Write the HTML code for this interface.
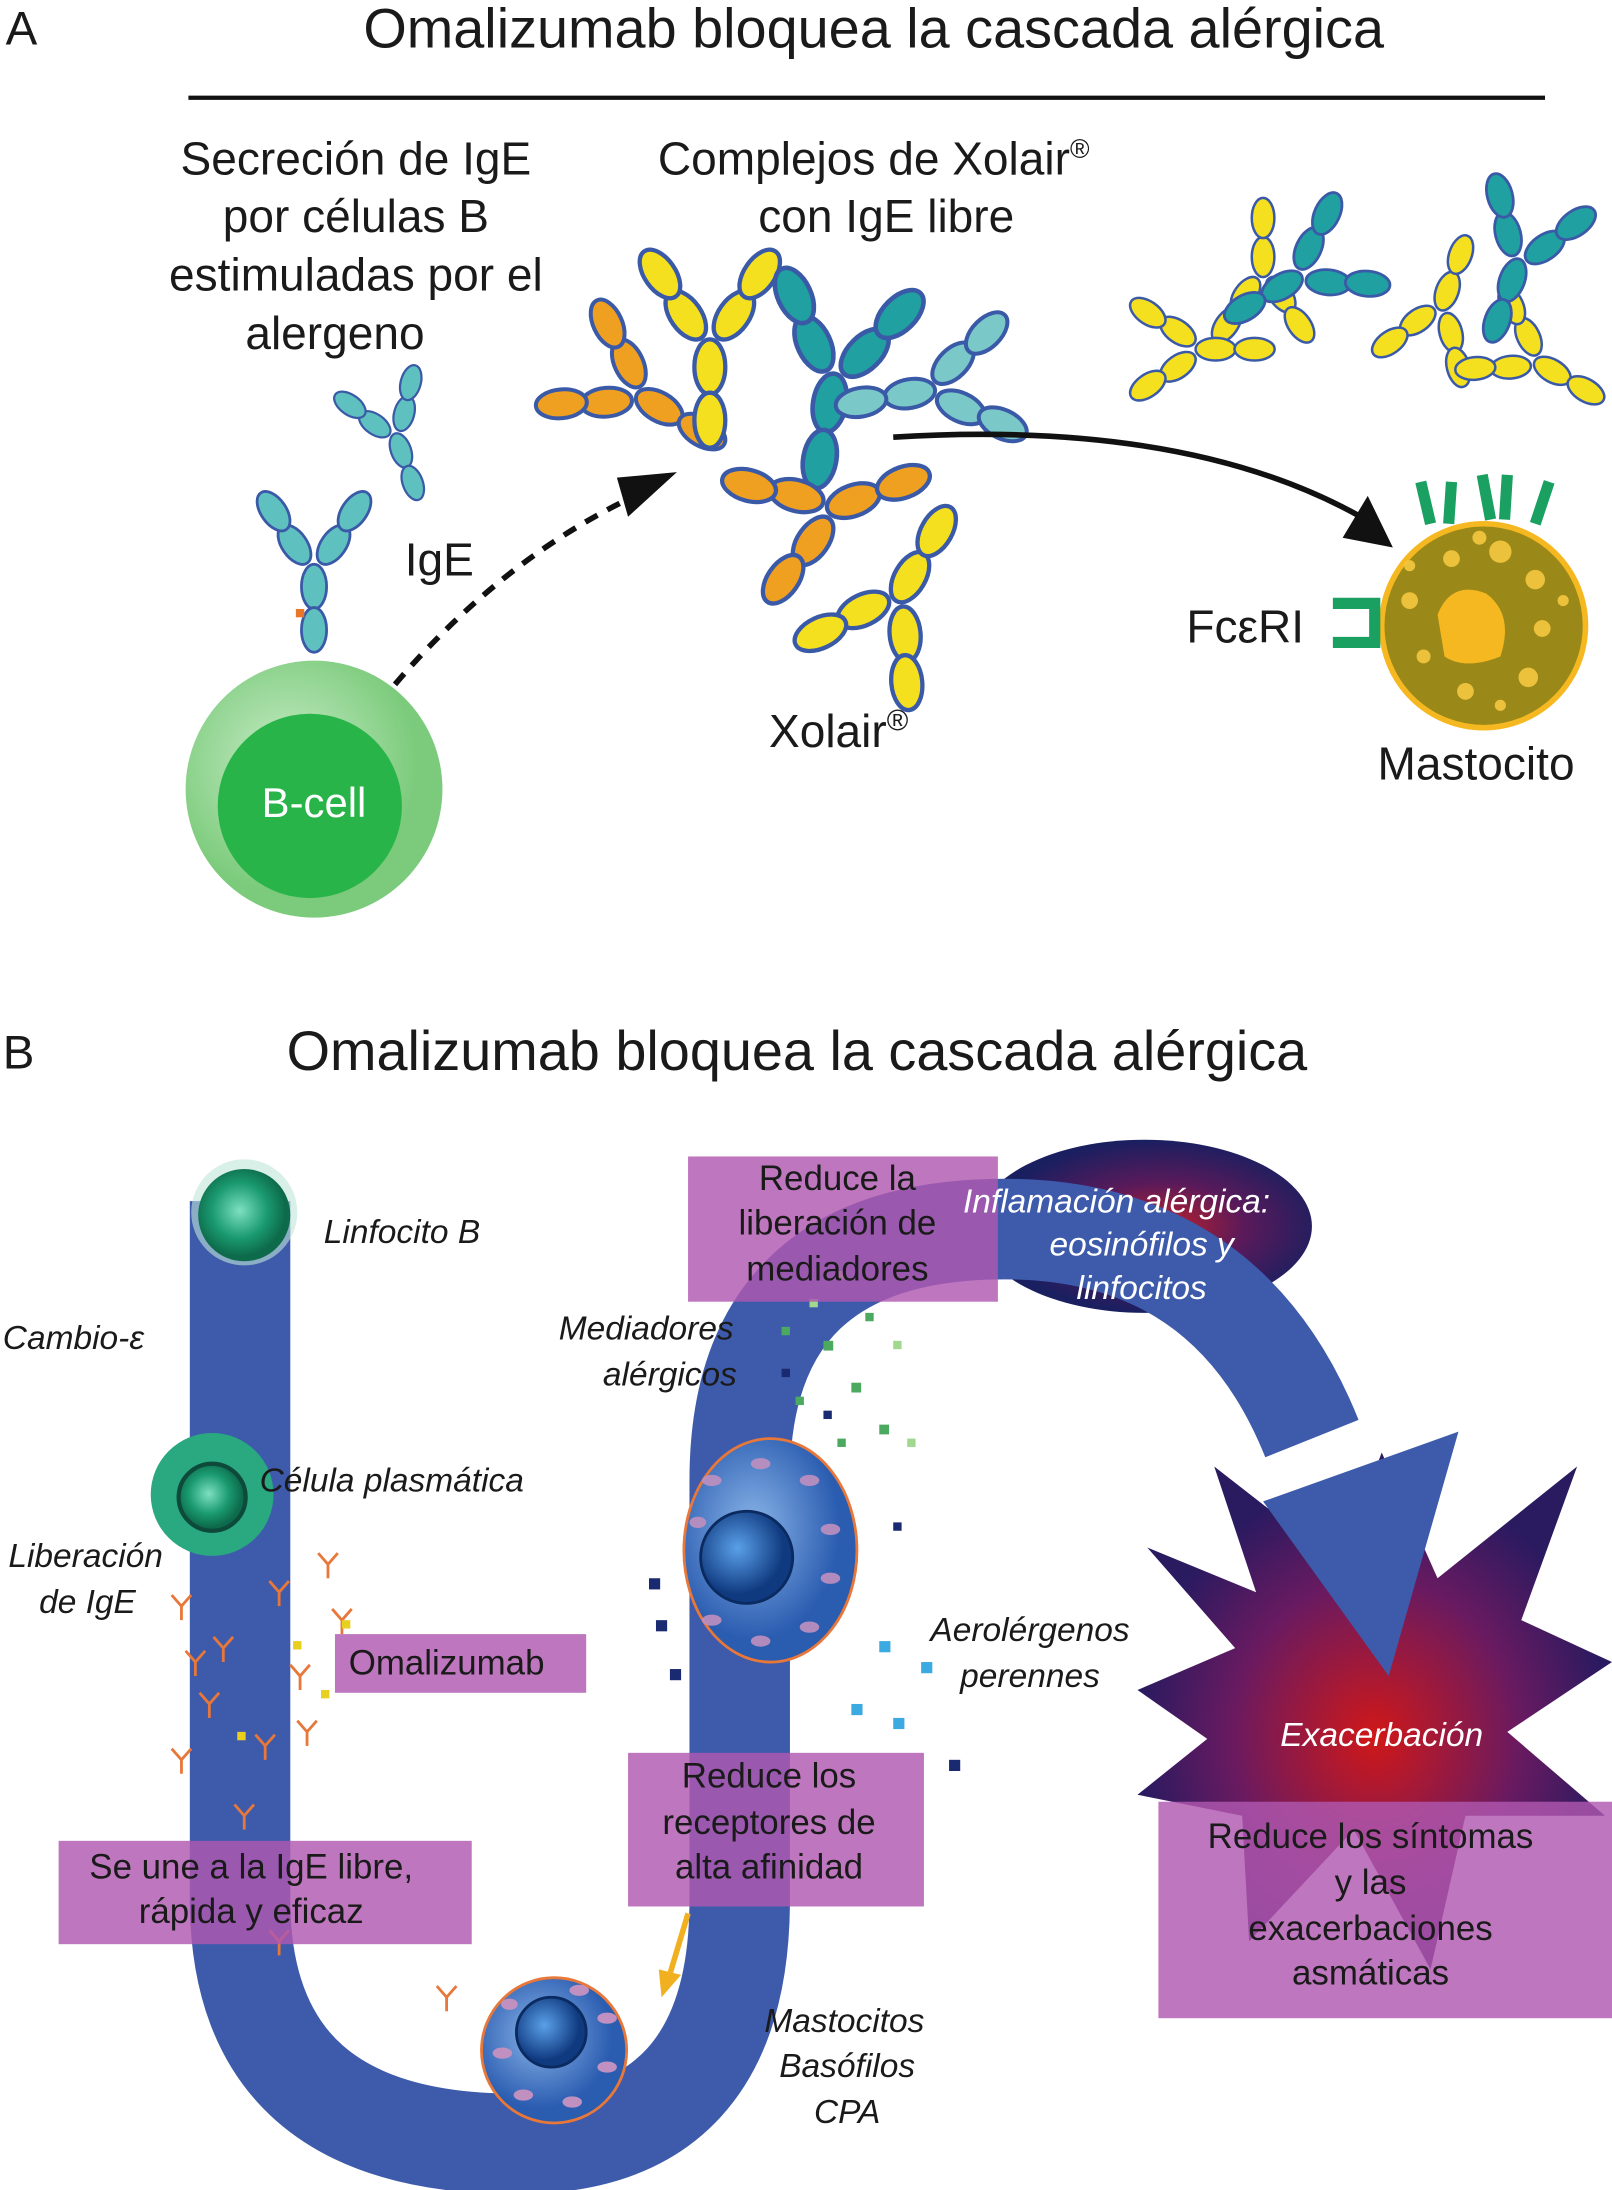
<!DOCTYPE html>
<html><head><meta charset="utf-8">
<style>
html,body{margin:0;padding:0;background:#fff;}
svg{display:block;}
text{font-family:"Liberation Sans",sans-serif;}
.t{font-size:33px;fill:#1a1a1a;}
.i{font-size:24px;font-style:italic;fill:#1a1a1a;}
.w{font-size:24px;font-style:italic;fill:#fff;}
.p{font-size:25px;fill:#1a1a1a;}
</style></head><body>
<svg width="1612" height="2190" viewBox="0 0 1155 1568" preserveAspectRatio="none" xmlns="http://www.w3.org/2000/svg">
<defs>
<g id="ab">
 <ellipse cx="-14" cy="-40" rx="9" ry="16" transform="rotate(-35 -14 -40)" />
 <ellipse cx="-29" cy="-64" rx="9" ry="16" transform="rotate(-35 -29 -64)" />
 <ellipse cx="14" cy="-40" rx="9" ry="16" transform="rotate(35 14 -40)" />
 <ellipse cx="29" cy="-64" rx="9" ry="16" transform="rotate(35 29 -64)" />
 <ellipse cx="0" cy="-10" rx="9" ry="16"/>
 <ellipse cx="0" cy="21" rx="9" ry="16"/>
</g>
<g id="sab" fill="none" stroke="#e8773a" stroke-width="2"><path d="M0 0V10M0 0L-7 -8M0 0L7 -8"/></g>
<radialGradient id="bc" cx="0.4" cy="0.4"><stop offset="0" stop-color="#c8ecc8"/><stop offset="1" stop-color="#7ccb7c"/></radialGradient>
<radialGradient id="cell" cx="0.4" cy="0.4"><stop offset="0" stop-color="#8ab4e8"/><stop offset="1" stop-color="#2a5cb0"/></radialGradient>
<radialGradient id="nuc" cx="0.4" cy="0.4"><stop offset="0" stop-color="#5aa0e8"/><stop offset="1" stop-color="#103a80"/></radialGradient>
<radialGradient id="gc" cx="0.45" cy="0.45"><stop offset="0" stop-color="#7de0c0"/><stop offset="0.6" stop-color="#1a9a70"/><stop offset="1" stop-color="#0d6a4a"/></radialGradient>
<radialGradient id="infl" cx="0.55" cy="0.5"><stop offset="0" stop-color="#c0202a"/><stop offset="0.5" stop-color="#5a1a5a"/><stop offset="1" stop-color="#1a1f60"/></radialGradient>
<radialGradient id="star" cx="0.5" cy="0.55"><stop offset="0" stop-color="#d01818"/><stop offset="0.6" stop-color="#6a1a60"/><stop offset="1" stop-color="#2a1a60"/></radialGradient>
</defs>

<!-- PART A -->
<text x="4" y="32" style="font-size:34px" fill="#1a1a1a">A</text>
<text x="626" y="34" text-anchor="middle" style="font-size:40px" fill="#1a1a1a">Omalizumab bloquea la cascada alérgica</text>
<line x1="135" y1="70" x2="1107" y2="70" stroke="#111" stroke-width="3"/>
<g class="t" text-anchor="middle">
<text x="255" y="125">Secreción de IgE</text>
<text x="255" y="166">por células B</text>
<text x="255" y="208">estimuladas por el</text>
<text x="240" y="250">alergeno</text>
<text x="626" y="125">Complejos de Xolair<tspan dy="-12" font-size="19">®</tspan></text>
<text x="635" y="166">con IgE libre</text>
</g>
<text x="290" y="412" class="t">IgE</text>
<text x="551" y="535" class="t">Xolair<tspan dy="-12" font-size="21">®</tspan></text>
<text x="850" y="460" class="t">FcεRI</text>
<text x="987" y="558" class="t">Mastocito</text>

<!-- B-cell -->
<circle cx="225" cy="565" r="92" fill="url(#bc)"/>
<circle cx="222" cy="577" r="66" fill="#28b448"/>
<text x="225" y="585" text-anchor="middle" style="font-size:30px" fill="#fff">B-cell</text>
<g fill="#5fc0c0" stroke="#3a5aa8" stroke-width="2">
<use href="#ab" transform="translate(225,430)"/>
<use href="#ab" transform="translate(290,330) scale(0.8) rotate(-20)"/>
</g>
<rect x="212" y="436" width="6" height="6" fill="#e8772a"/>
<!-- dashed arrow -->
<path d="M283 490 Q360 400 455 355" fill="none" stroke="#111" stroke-width="4" stroke-dasharray="10 8"/>
<polygon points="485,338 450,370 442,342" fill="#111"/>
<!-- central complex -->
<g stroke="#3a5aa8" stroke-width="2.5" transform="translate(95,55) scale(0.88)">
<g fill="#f0a020"><use href="#ab" transform="translate(440,275) scale(1.3) rotate(-60)"/></g>
<g fill="#f5e020"><use href="#ab" transform="translate(470,250) scale(1.4) rotate(0)"/></g>
<g fill="#20a0a0"><use href="#ab" transform="translate(565,280) scale(1.5) rotate(10)"/></g>
<g fill="#7ac8c8"><use href="#ab" transform="translate(620,260) scale(1.3) rotate(80)"/></g>
<g fill="#f0a020"><use href="#ab" transform="translate(600,340) scale(1.4) rotate(-110)"/></g>
<g fill="#f5e020"><use href="#ab" transform="translate(640,395) scale(1.4) rotate(-150)"/></g>
</g>
<!-- small complexes -->
<g stroke="#3a5aa8" stroke-width="2">
<g fill="#f5e020"><use href="#ab" transform="translate(905,175) scale(0.9) rotate(180)"/><use href="#ab" transform="translate(880,250) scale(0.9) rotate(-90)"/></g>
<g fill="#20a0a0"><use href="#ab" transform="translate(910,210) scale(1) rotate(60)"/></g>
<g fill="#f5e020"><use href="#ab" transform="translate(1040,200) scale(0.9) rotate(200)"/><use href="#ab" transform="translate(1120,270) scale(0.9) rotate(-60)"/></g>
<g fill="#20a0a0"><use href="#ab" transform="translate(1080,210) scale(1) rotate(20)"/></g>
</g>
<!-- solid arrow -->
<path d="M640 313 Q850 300 975 370" fill="none" stroke="#111" stroke-width="4"/>
<polygon points="998,392 962,385 980,355" fill="#111"/>
<!-- mastocyte -->
<circle cx="1063" cy="448" r="73" fill="#9a8818" stroke="#f5b820" stroke-width="4"/>
<path d="M1030 440 Q1040 415 1065 425 Q1085 440 1075 470 Q1050 480 1035 470 Z" fill="#f5b820"/>
<g fill="#f5c840" opacity="0.9">
<circle cx="1040" cy="400" r="6"/><circle cx="1075" cy="395" r="8"/><circle cx="1100" cy="415" r="7"/><circle cx="1010" cy="430" r="6"/><circle cx="1105" cy="450" r="6"/><circle cx="1095" cy="485" r="7"/><circle cx="1050" cy="495" r="6"/><circle cx="1020" cy="470" r="5"/><circle cx="1060" cy="385" r="5"/><circle cx="1120" cy="430" r="4"/><circle cx="1010" cy="405" r="4"/><circle cx="1075" cy="505" r="4"/>
</g>
<g fill="none" stroke="#1aa060" stroke-width="8">
<path d="M1018 345 L1025 375 M1040 345 L1038 375"/><path d="M1062 340 L1068 372 M1080 340 L1078 372"/><path d="M1110 345 L1100 375"/>
<path d="M955 432 H985 V460 H955"/>
</g>

<!-- PART B -->
<text x="2" y="765" style="font-size:34px" fill="#1a1a1a">B</text>
<text x="571" y="766" text-anchor="middle" style="font-size:40px" fill="#1a1a1a">Omalizumab bloquea la cascada alérgica</text>

<ellipse cx="820" cy="878" rx="120" ry="62" fill="url(#infl)"/>
<polygon points="822,1108 900,1140 870,1050 960,1120 990,1040 1030,1130 1130,1050 1090,1160 1155,1190 1080,1240 1150,1300 1050,1300 1025,1410 970,1310 895,1390 890,1300 815,1285 865,1245 815,1210 885,1180" fill="url(#star)"/>
<path d="M172 860 V1360 Q172 1535 370 1535 Q530 1535 530 1360 V1060 Q530 880 720 880 Q880 880 940 1030" fill="none" stroke="#3e5bab" stroke-width="72"/>
<polygon points="905,1075 1045,1025 995,1200" fill="#3e5bab"/>

<circle cx="175" cy="868" r="38" fill="#bfe6d8" opacity="0.6"/>
<circle cx="175" cy="870" r="33" fill="url(#gc)"/>
<circle cx="152" cy="1070" r="44" fill="#2aa880"/>
<circle cx="152" cy="1072" r="24" fill="url(#gc)" stroke="#0d4a3a" stroke-width="3"/>

<!-- ige scatter -->
<g>
<use href="#sab" x="130" y="1150"/><use href="#sab" x="160" y="1180"/><use href="#sab" x="200" y="1140"/><use href="#sab" x="150" y="1220"/><use href="#sab" x="190" y="1250"/><use href="#sab" x="215" y="1200"/><use href="#sab" x="130" y="1260"/><use href="#sab" x="175" y="1300"/><use href="#sab" x="235" y="1120"/><use href="#sab" x="245" y="1160"/><use href="#sab" x="220" y="1240"/><use href="#sab" x="140" y="1190"/><use href="#sab" x="200" y="1390"/><use href="#sab" x="320" y="1430"/>
</g>
<g fill="#e8d020"><rect x="210" y="1175" width="6" height="6"/><rect x="230" y="1210" width="6" height="6"/><rect x="245" y="1160" width="6" height="6"/><rect x="170" y="1240" width="6" height="6"/></g>

<!-- upper blue cell -->
<ellipse cx="552" cy="1110" rx="62" ry="80" fill="url(#cell)" stroke="#e8773a" stroke-width="2"/>
<circle cx="535" cy="1115" r="33" fill="url(#nuc)" stroke="#0a2a60" stroke-width="2"/>
<g fill="#c090c0" opacity="0.9">
<ellipse cx="510" cy="1060" rx="7" ry="4"/><ellipse cx="545" cy="1048" rx="7" ry="4"/><ellipse cx="580" cy="1060" rx="7" ry="4"/><ellipse cx="595" cy="1095" rx="7" ry="4"/><ellipse cx="595" cy="1130" rx="7" ry="4"/><ellipse cx="580" cy="1165" rx="7" ry="4"/><ellipse cx="545" cy="1175" rx="7" ry="4"/><ellipse cx="510" cy="1160" rx="7" ry="4"/><ellipse cx="500" cy="1090" rx="6" ry="4"/>
</g>
<!-- bottom blue cell -->
<circle cx="397" cy="1468" r="52" fill="url(#cell)" stroke="#e8773a" stroke-width="2"/>
<circle cx="395" cy="1455" r="25" fill="url(#nuc)" stroke="#0a2a60" stroke-width="2"/>
<g fill="#c090c0">
<ellipse cx="360" cy="1470" rx="7" ry="4"/><ellipse cx="375" cy="1500" rx="7" ry="4"/><ellipse cx="410" cy="1505" rx="7" ry="4"/><ellipse cx="435" cy="1480" rx="7" ry="4"/><ellipse cx="435" cy="1445" rx="7" ry="4"/><ellipse cx="415" cy="1425" rx="7" ry="4"/><ellipse cx="365" cy="1435" rx="6" ry="4"/>
</g>
<line x1="493" y1="1370" x2="478" y2="1420" stroke="#f0b020" stroke-width="4"/>
<polygon points="474,1430 472,1410 488,1414" fill="#f0b020"/>

<!-- mediator dots -->
<g fill="#4caa60">
<rect x="590" y="960" width="7" height="7"/><rect x="610" y="990" width="7" height="7"/><rect x="570" y="1000" width="6" height="6"/><rect x="630" y="1020" width="7" height="7"/><rect x="600" y="1030" width="6" height="6"/><rect x="560" y="950" width="6" height="6"/><rect x="620" y="940" width="6" height="6"/>
</g>
<g fill="#a0d890"><rect x="580" y="930" width="6" height="6"/><rect x="640" y="960" width="6" height="6"/><rect x="600" y="910" width="6" height="6"/><rect x="650" y="1030" width="6" height="6"/></g>
<g fill="#1a2a70"><rect x="560" y="980" width="6" height="6"/><rect x="590" y="1010" width="6" height="6"/><rect x="465" y="1130" width="8" height="8"/><rect x="470" y="1160" width="8" height="8"/><rect x="480" y="1195" width="8" height="8"/><rect x="680" y="1260" width="8" height="8"/><rect x="640" y="1090" width="6" height="6"/></g>
<g fill="#3aaae0"><rect x="630" y="1175" width="8" height="8"/><rect x="660" y="1190" width="8" height="8"/><rect x="610" y="1220" width="8" height="8"/><rect x="640" y="1230" width="8" height="8"/></g>

<!-- pink boxes -->
<g fill="#b058b0" opacity="0.82">
<rect x="493" y="828" width="222" height="104"/>
<rect x="240" y="1170" width="180" height="42"/>
<rect x="42" y="1318" width="296" height="74"/>
<rect x="450" y="1255" width="212" height="110"/>
<rect x="830" y="1290" width="325" height="155"/>
</g>
<g class="p" text-anchor="middle">
<text x="600" y="852">Reduce la</text><text x="600" y="884">liberación de</text><text x="600" y="917">mediadores</text>
<text x="320" y="1199" text-anchor="middle">Omalizumab</text>
<text x="180" y="1345">Se une a la IgE libre,</text><text x="180" y="1377">rápida y eficaz</text>
<text x="551" y="1280">Reduce los</text><text x="551" y="1313">receptores de</text><text x="551" y="1345">alta afinidad</text>
<text x="982" y="1323">Reduce los síntomas</text><text x="982" y="1356">y las</text><text x="982" y="1389">exacerbaciones</text><text x="982" y="1421">asmáticas</text>
</g>

<!-- italic labels -->
<text x="232" y="890" class="i">Linfocito B</text>
<text x="2" y="966" class="i">Cambio-ε</text>
<text x="186" y="1068" class="i">Célula plasmática</text>
<text x="6" y="1122" class="i">Liberación</text>
<text x="28" y="1155" class="i">de IgE</text>
<text x="463" y="959" class="i" text-anchor="middle">Mediadores</text>
<text x="480" y="992" class="i" text-anchor="middle">alérgicos</text>
<text x="738" y="1175" class="i" text-anchor="middle">Aerolérgenos</text>
<text x="738" y="1208" class="i" text-anchor="middle">perennes</text>
<text x="605" y="1455" class="i" text-anchor="middle">Mastocitos</text>
<text x="607" y="1487" class="i" text-anchor="middle">Basófilos</text>
<text x="607" y="1520" class="i" text-anchor="middle">CPA</text>
<text x="800" y="868" class="w" text-anchor="middle">Inflamación alérgica:</text>
<text x="818" y="899" class="w" text-anchor="middle">eosinófilos y</text>
<text x="818" y="930" class="w" text-anchor="middle">linfocitos</text>
<text x="990" y="1250" class="w" text-anchor="middle">Exacerbación</text>
</svg>
</body></html>
